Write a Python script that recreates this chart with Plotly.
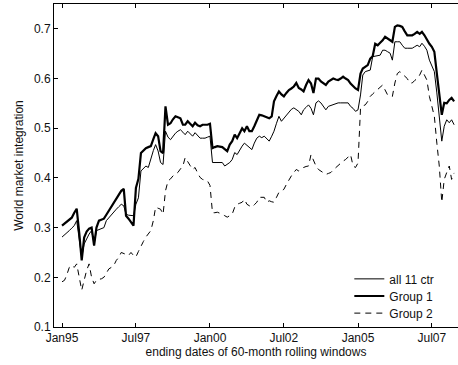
import pandas as pd
import plotly.graph_objects as go

# Monthly end dates of the 60-month rolling windows (Jan 1995 .. Apr 2008)
START_DATE = "1995-01-01"
N_MONTHS = 160

ALL_11 = [
    0.281, 0.285, 0.290, 0.294, 0.299, 0.304, 0.314, 0.280, 0.240, 0.267, 0.278, 0.287,  # 1995
    0.294, 0.267, 0.294, 0.296, 0.297, 0.300, 0.314, 0.320, 0.327, 0.332, 0.337, 0.342,  # 1996
    0.347, 0.344, 0.327, 0.325, 0.324, 0.324, 0.347, 0.360, 0.414, 0.420, 0.424, 0.421,  # 1997
    0.440, 0.455, 0.467, 0.454, 0.431, 0.427, 0.494, 0.482, 0.477, 0.484, 0.490, 0.494,  # 1998
    0.497, 0.492, 0.487, 0.494, 0.489, 0.484, 0.491, 0.485, 0.480, 0.480, 0.480, 0.482,  # 1999
    0.484, 0.431, 0.431, 0.431, 0.431, 0.431, 0.424, 0.428, 0.431, 0.437, 0.451, 0.447,  # 2000
    0.456, 0.464, 0.470, 0.465, 0.461, 0.457, 0.470, 0.480, 0.484, 0.481, 0.484, 0.479,  # 2001
    0.474, 0.484, 0.494, 0.510, 0.524, 0.514, 0.520, 0.527, 0.534, 0.538, 0.541, 0.538,  # 2002
    0.534, 0.527, 0.537, 0.542, 0.547, 0.540, 0.527, 0.551, 0.555, 0.551, 0.544, 0.537,  # 2003
    0.544, 0.546, 0.547, 0.549, 0.551, 0.551, 0.551, 0.551, 0.551, 0.544, 0.540, 0.534,  # 2004
    0.537, 0.567, 0.607, 0.614, 0.615, 0.617, 0.644, 0.645, 0.645, 0.647, 0.657, 0.657,  # 2005
    0.654, 0.651, 0.637, 0.674, 0.674, 0.674, 0.667, 0.661, 0.661, 0.661, 0.661, 0.664,  # 2006
    0.667, 0.664, 0.671, 0.665, 0.657, 0.637, 0.625, 0.614, 0.571, 0.524, 0.474, 0.504,  # 2007
    0.517, 0.511, 0.517, 0.507,                                                          # 2008
]

GROUP_1 = [
    0.304, 0.308, 0.312, 0.316, 0.320, 0.330, 0.338, 0.290, 0.234, 0.280, 0.292, 0.298,  # 1995
    0.300, 0.264, 0.300, 0.314, 0.316, 0.318, 0.326, 0.334, 0.342, 0.350, 0.360, 0.368,  # 1996
    0.374, 0.378, 0.324, 0.318, 0.310, 0.304, 0.380, 0.398, 0.450, 0.456, 0.460, 0.462,  # 1997
    0.464, 0.478, 0.490, 0.484, 0.454, 0.450, 0.544, 0.507, 0.510, 0.518, 0.524, 0.522,  # 1998
    0.520, 0.507, 0.507, 0.514, 0.508, 0.504, 0.511, 0.506, 0.504, 0.507, 0.507, 0.507,  # 1999
    0.509, 0.460, 0.462, 0.464, 0.463, 0.462, 0.458, 0.454, 0.467, 0.474, 0.487, 0.480,  # 2000
    0.490, 0.500, 0.494, 0.504, 0.494, 0.494, 0.504, 0.514, 0.527, 0.526, 0.524, 0.522,  # 2001
    0.520, 0.524, 0.554, 0.565, 0.574, 0.568, 0.564, 0.571, 0.577, 0.580, 0.584, 0.591,  # 2002
    0.581, 0.578, 0.574, 0.587, 0.597, 0.590, 0.571, 0.600, 0.600, 0.594, 0.590, 0.587,  # 2003
    0.594, 0.597, 0.600, 0.598, 0.597, 0.600, 0.604, 0.600, 0.597, 0.590, 0.584, 0.580,  # 2004
    0.577, 0.610, 0.620, 0.624, 0.627, 0.640, 0.645, 0.670, 0.667, 0.672, 0.677, 0.684,  # 2005
    0.680, 0.677, 0.674, 0.704, 0.707, 0.706, 0.704, 0.695, 0.687, 0.687, 0.687, 0.690,  # 2006
    0.694, 0.690, 0.694, 0.687, 0.677, 0.670, 0.664, 0.654, 0.610, 0.570, 0.527, 0.551,  # 2007
    0.550, 0.557, 0.561, 0.554,                                                          # 2008
]

GROUP_2 = [
    0.191, 0.194, 0.205, 0.220, 0.224, 0.220, 0.227, 0.200, 0.174, 0.194, 0.214, 0.227,  # 1995
    0.200, 0.187, 0.194, 0.196, 0.197, 0.200, 0.208, 0.217, 0.220, 0.224, 0.234, 0.240,  # 1996
    0.250, 0.247, 0.246, 0.244, 0.250, 0.244, 0.241, 0.252, 0.264, 0.272, 0.281, 0.288,  # 1997
    0.294, 0.314, 0.341, 0.339, 0.337, 0.327, 0.374, 0.394, 0.398, 0.404, 0.408, 0.411,  # 1998
    0.418, 0.424, 0.441, 0.434, 0.425, 0.417, 0.421, 0.410, 0.401, 0.397, 0.396, 0.394,  # 1999
    0.385, 0.330, 0.330, 0.331, 0.329, 0.327, 0.324, 0.321, 0.324, 0.327, 0.341, 0.347,  # 2000
    0.349, 0.351, 0.357, 0.347, 0.344, 0.341, 0.346, 0.351, 0.361, 0.361, 0.361, 0.351,  # 2001
    0.354, 0.352, 0.351, 0.361, 0.371, 0.374, 0.377, 0.387, 0.397, 0.404, 0.411, 0.417,  # 2002
    0.414, 0.418, 0.421, 0.423, 0.424, 0.447, 0.434, 0.424, 0.417, 0.414, 0.410, 0.407,  # 2003
    0.409, 0.411, 0.416, 0.421, 0.426, 0.431, 0.434, 0.437, 0.442, 0.447, 0.424, 0.421,  # 2004
    0.430, 0.540, 0.545, 0.547, 0.554, 0.564, 0.569, 0.574, 0.579, 0.584, 0.587, 0.577,  # 2005
    0.567, 0.565, 0.564, 0.591, 0.610, 0.614, 0.610, 0.605, 0.600, 0.591, 0.591, 0.596,  # 2006
    0.600, 0.607, 0.617, 0.607, 0.597, 0.564, 0.544, 0.524, 0.470, 0.424, 0.351, 0.397,  # 2007
    0.411, 0.424, 0.397, 0.410,                                                          # 2008
]

SERIES_NAMES = ["all 11 ctr", "Group 1", "Group 2"]

X_TICK_VALS = ["1995-01-01", "1997-07-01", "2000-01-01", "2002-07-01", "2005-01-01", "2007-07-01"]
X_TICK_TEXT = ["Jan95", "Jul97", "Jan00", "Jul02", "Jan05", "Jul07"]
Y_TICK_VALS = [0.1, 0.2, 0.3, 0.4, 0.5, 0.6, 0.7]
Y_TICK_TEXT = ["0.1", "0.2", "0.3", "0.4", "0.5", "0.6", "0.7"]

X_TITLE = "ending dates of 60-month rolling windows"
Y_TITLE = "World market integration"

dates = pd.date_range(START_DATE, periods=N_MONTHS, freq="MS")

FONT = "Liberation Sans, Arial, Helvetica, sans-serif"

fig = go.Figure()
fig.add_trace(go.Scatter(x=dates, y=ALL_11, mode="lines", name=SERIES_NAMES[0],
                         line=dict(color="black", width=1), legend="legend"))
fig.add_trace(go.Scatter(x=dates, y=GROUP_1, mode="lines", name=SERIES_NAMES[1],
                         line=dict(color="black", width=2.2), legend="legend2"))
fig.add_trace(go.Scatter(x=dates, y=GROUP_2, mode="lines", name=SERIES_NAMES[2],
                         line=dict(color="black", width=1, dash="6px,5px"), legend="legend3"))

legend_common = dict(x=0.731, xanchor="left", yanchor="middle",
                     bgcolor="rgba(0,0,0,0)", borderwidth=0, font=dict(size=12))

fig.update_layout(
    width=458, height=365,
    margin=dict(l=54, r=0, t=4, b=38),
    paper_bgcolor="white", plot_bgcolor="white",
    font=dict(family=FONT, size=12, color="#111111"),
    showlegend=True,
    legend=dict(y=0.149, **legend_common),
    legend2=dict(y=0.096, **legend_common),
    legend3=dict(y=0.043, **legend_common),
)
fig.update_xaxes(
    type="date", range=["1994-09-24", "2008-05-19"],
    tickmode="array", tickvals=X_TICK_VALS, ticktext=X_TICK_TEXT,
    ticks="inside", ticklen=4, tickcolor="black", tickwidth=1,
    showline=True, linecolor="black", linewidth=1, mirror="ticks",
    showgrid=False, zeroline=False,
    tickfont=dict(size=12),
    title=dict(text=X_TITLE, font=dict(size=12), standoff=3),
)
fig.update_yaxes(
    range=[0.1, 0.75],
    tickmode="array", tickvals=Y_TICK_VALS, ticktext=Y_TICK_TEXT,
    ticks="inside", ticklen=4, tickcolor="black", tickwidth=1,
    showline=True, linecolor="black", linewidth=1, mirror=False,
    showgrid=False, zeroline=False,
    tickfont=dict(size=12),
    title=dict(text=Y_TITLE, font=dict(size=12), standoff=7),
)

fig.write_html("out.html", config={"displayModeBar": False},
               post_script="document.body.style.margin='0';")
